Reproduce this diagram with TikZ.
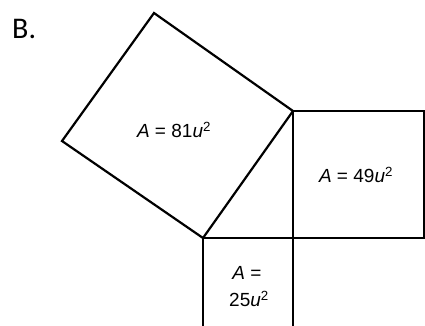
\documentclass[tikz,border=0pt]{standalone}
\usepackage{fontspec}
\setmainfont{Liberation Sans}
\newfontfamily\labelfont{Carlito}
\begin{document}
\begin{tikzpicture}[x=1pt,y=-1pt,
  edge/.style={line width=2.2pt, line join=miter},
  area/.style={font=\fontsize{19}{21}\selectfont, inner sep=0pt, align=center}]
\useasboundingbox (0,0) rectangle (425,325);
\clip (0,0) rectangle (425,325);
\fill[white] (0,0) rectangle (425,325);
\coordinate (T) at (154,13);
\coordinate (L) at (62,141);
\coordinate (R) at (293,111);
\coordinate (P) at (203,238);
\coordinate (Q) at (424,111);
\coordinate (S) at (424,238);
\coordinate (RB) at (293,330);
\coordinate (PB) at (203,330);
\draw[edge] (P) -- (L) -- (T) -- (R) -- cycle;
\draw[edge] (R) -- (Q) -- (S) -- (P);
\draw[edge] (R) -- (RB);
\draw[edge] (P) -- (PB);
\node[font=\labelfont\fontsize{30}{32}\selectfont, anchor=base west, inner sep=0pt] (lab) at (12,38) {B.};
\node[area] (a81) at (174,130) {\textit{A} = 81\textit{u}\textsuperscript{2}};
\node[area] (a49) at (356,175) {\textit{A} = 49\textit{u}\textsuperscript{2}};
\node[area] (a25a) at (247,273) {\textit{A} =};
\node[area] (a25b) at (249,299) {25\textit{u}\textsuperscript{2}};
\end{tikzpicture}
\end{document}
